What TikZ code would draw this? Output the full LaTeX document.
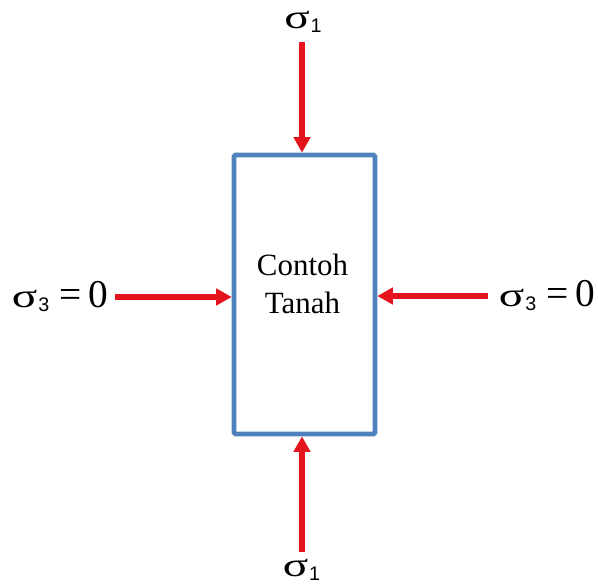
\documentclass[tikz,border=0pt]{standalone}
\usepackage{fontspec}
\setmainfont{Liberation Serif}
\setsansfont{Liberation Sans}
\usepackage{graphicx}
\usepackage{xcolor}
\usepackage{tikz}
\usetikzlibrary{arrows.meta}
\definecolor{boxblue}{RGB}{79,129,189}
\definecolor{forcered}{RGB}{228,20,28}
\tikzset{
  soil/.style={draw=boxblue,line width=3.3pt,rounded corners=1pt,fill=white,minimum width=3.525cm,minimum height=6.975cm,inner sep=0pt},
  force/.style={draw=forcered,line width=3.9pt,-{Triangle[length=11pt,width=11.5pt]}},
  lbl/.style={anchor=base,inner sep=0pt}
}
\newcommand{\sig}[1]{\scalebox{1.4}[1]{\fontsize{24}{28}\selectfont σ}\kern0.6pt\raisebox{-3pt}{\sffamily\fontsize{14}{16}\selectfont #1}}
\newcommand{\sigzero}[1]{\sig{#1}\hspace{7pt}{\fontsize{28}{30}\selectfont =\hspace{5pt}0}}

\begin{document}
\begin{tikzpicture}[x=0.025cm,y=-0.025cm]
\useasboundingbox (0,0) rectangle (598,585);
\node[soil] (box) at (304.5,294.5) {};
\node[align=center,font=\fontsize{22}{27}\selectfont] (soiltext) at (302.5,284) {Contoh\\Tanah};
\node[lbl] (sigtop) at (303,28) {\sig{1}};
\node[lbl] (sigbot) at (301.5,576) {\sig{1}};
\node[lbl] (sigleft) at (60,307) {\sigzero{3}};
\node[lbl] (sigright) at (547,306) {\sigzero{3}};
\coordinate (toptail) at (302,42);
\coordinate (bottail) at (302,552);
\coordinate (lefttail) at (115,297);
\coordinate (righttail) at (488,296);
\draw[force] (toptail) -- (toptail |- box.north);
\draw[force] (bottail) -- (bottail |- box.south);
\draw[force] (lefttail) -- (lefttail -| box.west);
\draw[force] (righttail) -- (righttail -| box.east);
\end{tikzpicture}
\end{document}
